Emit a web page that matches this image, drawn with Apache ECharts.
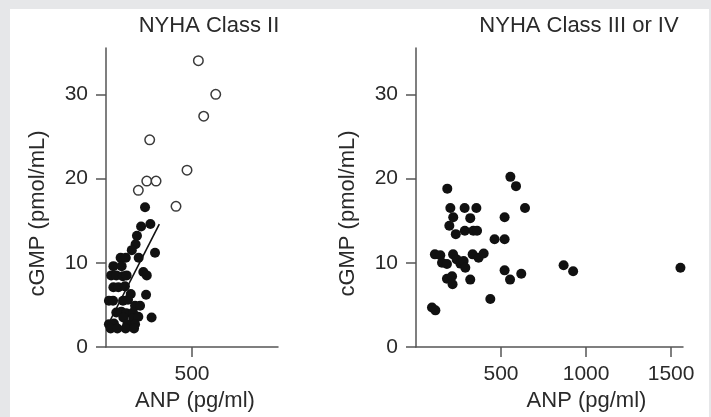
<!DOCTYPE html>
<html>
<head>
<meta charset="utf-8">
<script src="https://cdn.jsdelivr.net/npm/echarts@6/dist/echarts.min.js"></script>
<style>
  html, body { margin: 0; padding: 0; background: #e6e7e9; }
  #wrap { position: relative; width: 711px; height: 417px; overflow: hidden; }
  #paper { position: absolute; left: 10px; top: 9px; width: 699px; height: 408px; background: #ffffff; }
  #chart { position: absolute; left: 0; top: 0; width: 711px; height: 417px; }
</style>
</head>
<body>
<div id="wrap"><div id="paper"></div><div id="chart"></div></div>
<script>
// ---- Data (ANP pg/ml, cGMP pmol/mL) ----
const panelTitles = ['NYHA Class II', 'NYHA Class III or IV'];
const xAxisName = 'ANP (pg/ml)';
const yAxisName = 'cGMP (pmol/mL)';
const yTicks = [0, 10, 20, 30];
const leftXTicks = [500];
const rightXTicks = [500, 1000, 1500];

// NYHA II, filled symbols
const class2Filled = [
  [227,16.6],[258,14.6],[204,14.3],[180,13.2],[172,12.2],[150,11.5],[285,11.2],
  [85,10.6],[115,10.6],[190,10.6],[43,9.6],[91,9.6],[30,8.5],[60,8.5],[98,8.4],
  [120,8.5],[217,8.9],[237,8.5],[43,7.1],[72,7.1],[110,7.2],[233,6.2],[144,6.3],
  [17,5.5],[41,5.5],[99,5.5],[128,5.6],[169,4.9],[198,4.9],[60,4.1],[89,4.2],
  [118,4.0],[157,4.1],[265,3.5],[101,3.5],[159,3.4],[188,3.6],[17,2.7],[46,2.8],
  [124,2.7],[169,2.7],[27,2.2],[66,2.2],[114,2.2],[163,2.2]
];
// NYHA II, open symbols
const class2Open = [
  [537,34.0],[638,30.0],[568,27.4],[254,24.6],[471,21.0],[237,19.7],[291,19.7],
  [188,18.6],[407,16.7]
];
// NYHA II regression line end points
const class2Fit = [[13,2.7],[310,14.6]];

// NYHA III or IV
const class34 = [
  [555,20.2],[588,19.1],[184,18.8],[202,16.5],[286,16.5],[355,16.5],[641,16.5],
  [219,15.4],[319,15.3],[521,15.4],[196,14.4],[234,13.4],[287,13.8],[337,13.8],
  [359,13.8],[462,12.8],[521,12.8],[111,11.0],[143,10.9],[153,10.0],[182,9.85],
  [218,11.0],[239,10.4],[261,9.9],[280,10.2],[290,9.4],[333,11.0],[368,10.6],
  [398,11.1],[182,8.1],[212,8.4],[215,7.45],[319,8.0],[521,9.1],[553,8.0],
  [619,8.7],[437,5.7],[94,4.7],[114,4.35],[868,9.7],[924,9.0],[1555,9.4]
];

const FONT = "'Liberation Sans', Arial, Helvetica, sans-serif";
const TXT = '#2a2a2a';
const AX = '#555555';

function plain(v) { return String(v); }

function xAxisCfg(idx, max, ticks, pad) {
  return {
    type: 'value', gridIndex: idx, min: 0, max: max,
    name: xAxisName, nameLocation: 'middle', nameGap: 43,
    nameTextStyle: { fontFamily: FONT, fontSize: 22, color: TXT, padding: pad },
    axisLine: { show: true, lineStyle: { color: AX, width: 1.5 } },
    axisTick: { show: true, length: 10, lineStyle: { color: AX, width: 1.5 }, customValues: ticks },
    axisLabel: { fontFamily: FONT, fontSize: 21, color: TXT, margin: 17, customValues: ticks, formatter: plain },
    splitLine: { show: false }
  };
}
function yAxisCfg(idx) {
  return {
    type: 'value', gridIndex: idx, min: 0, max: 35.5,
    name: yAxisName, nameLocation: 'middle', nameRotate: 90, nameGap: 57,
    nameTextStyle: { fontFamily: FONT, fontSize: 22, color: TXT, padding: [0, 32, 0, 0] },
    axisLine: { show: true, lineStyle: { color: AX, width: 1.5 } },
    axisTick: { show: true, length: 10, lineStyle: { color: AX, width: 1.5 }, customValues: yTicks },
    axisLabel: { fontFamily: FONT, fontSize: 21, color: TXT, margin: 18, customValues: yTicks, formatter: plain },
    splitLine: { show: false }
  };
}

const chart = echarts.init(document.getElementById('chart'), null, { renderer: 'canvas' });
chart.setOption({
  backgroundColor: 'transparent',
  animation: false,
  title: [
    { text: panelTitles[0], left: 209, top: 15, textAlign: 'center', padding: 0,
      textStyle: { fontFamily: FONT, fontSize: 22, fontWeight: 'normal', color: TXT } },
    { text: panelTitles[1], left: 579, top: 15, textAlign: 'center', padding: 0,
      textStyle: { fontFamily: FONT, fontSize: 22, fontWeight: 'normal', color: TXT } }
  ],
  grid: [
    { left: 106, top: 48, width: 172, height: 302 },
    { left: 416, top: 48, width: 267, height: 302 }
  ],
  xAxis: [ xAxisCfg(0, 1000, leftXTicks, [0, 0, 0, 6]), xAxisCfg(1, 1570, rightXTicks, [0, 0, 0, 74]) ],
  yAxis: [ yAxisCfg(0), yAxisCfg(1) ],
  series: [
    { name: 'NYHA II', type: 'scatter', xAxisIndex: 0, yAxisIndex: 0, data: class2Filled,
      symbol: 'circle', symbolSize: 10, itemStyle: { color: '#111111', opacity: 1 } },
    { name: 'NYHA II open', type: 'scatter', xAxisIndex: 0, yAxisIndex: 0, data: class2Open,
      symbol: 'circle', symbolSize: 9.5, itemStyle: { color: '#ffffff', borderColor: '#3a3a3a', borderWidth: 1.5, opacity: 1 } },
    { name: 'NYHA II fit', type: 'line', xAxisIndex: 0, yAxisIndex: 0, data: class2Fit,
      symbol: 'none', lineStyle: { color: '#111111', width: 1.6 }, z: 3 },
    { name: 'NYHA III/IV', type: 'scatter', xAxisIndex: 1, yAxisIndex: 1, data: class34,
      symbol: 'circle', symbolSize: 10, itemStyle: { color: '#111111', opacity: 1 } }
  ]
});
</script>
</body>
</html>
